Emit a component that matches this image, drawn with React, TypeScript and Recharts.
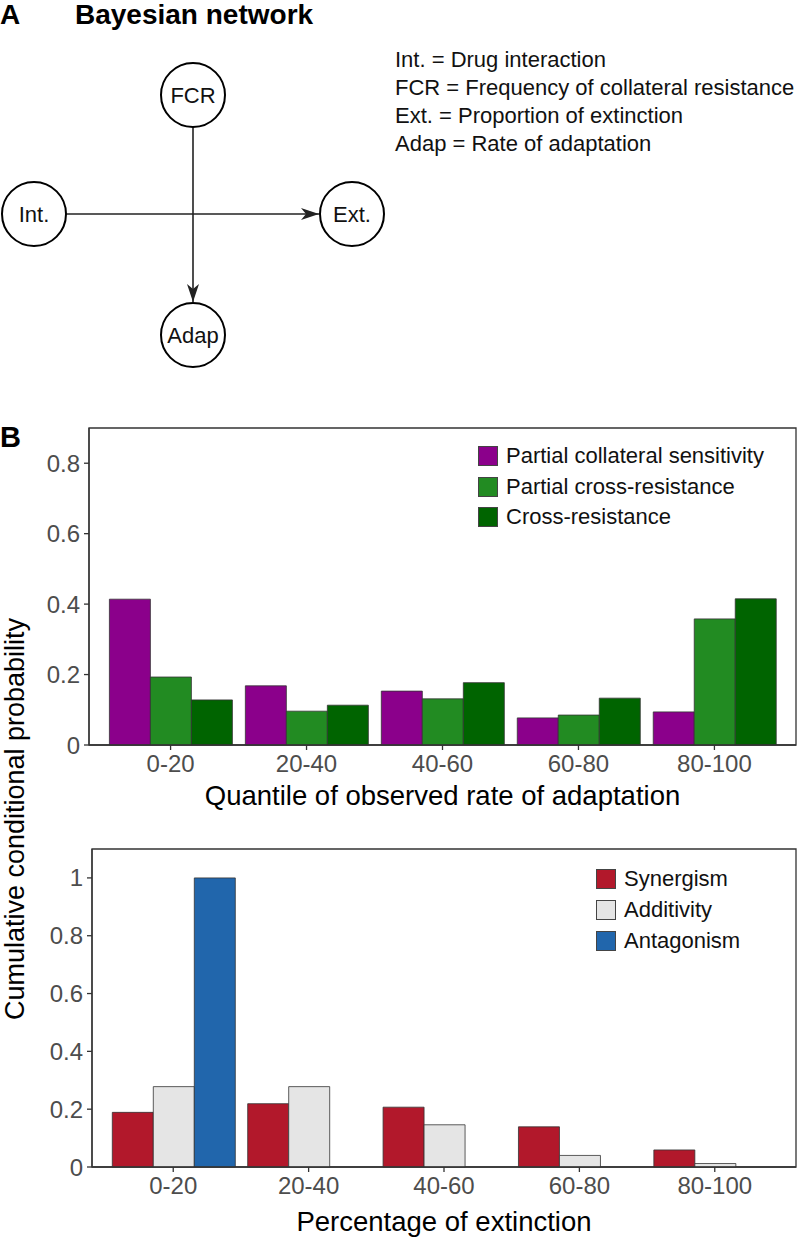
import { BarChart, Bar, XAxis, YAxis, Legend, ReferenceArea } from "recharts";

// quantile bins shared by both panels
const adaptationBins = ["0-20", "20-40", "40-60", "60-80", "80-100"];
const extinctionBins = ["0-20", "20-40", "40-60", "60-80", "80-100"];

// upper panel: FCR classes vs rate of adaptation
const partialCollateralSensitivity = [0.414, 0.168, 0.153, 0.077, 0.094];
const partialCrossResistance = [0.193, 0.096, 0.131, 0.085, 0.358];
const crossResistance = [0.128, 0.113, 0.177, 0.133, 0.415];

// lower panel: drug interaction vs extinction
const synergism = [0.189, 0.219, 0.207, 0.139, 0.059];
const additivity = [0.278, 0.278, 0.146, 0.04, 0.012];
const antagonism = [1.0, 0, 0, 0, 0];

const adaptationTicks = [0, 0.2, 0.4, 0.6, 0.8];
const extinctionTicks = [0, 0.2, 0.4, 0.6, 0.8, 1];
const binPositions = [1, 2, 3, 4, 5];

const abbreviations = [
  "Int. = Drug interaction",
  "FCR = Frequency of collateral resistance",
  "Ext. = Proportion of extinction",
  "Adap = Rate of adaptation",
];

const FONT = "'Liberation Sans', Arial, Helvetica, sans-serif";
const FRAME = "#333333";
// ggplot-style discrete expansion: 0.6 of a category on each side
const X_DOMAIN: [number, number] = [0.4, 5.6];

const adaptationSeries = [
  { key: "pcs", name: "Partial collateral sensitivity", color: "#8b008b", values: partialCollateralSensitivity },
  { key: "pcr", name: "Partial cross-resistance", color: "#228b22", values: partialCrossResistance },
  { key: "cr", name: "Cross-resistance", color: "#006400", values: crossResistance },
];

const extinctionSeries = [
  { key: "syn", name: "Synergism", color: "#b2182b", values: synergism },
  { key: "add", name: "Additivity", color: "#e5e5e5", values: additivity },
  { key: "ant", name: "Antagonism", color: "#2166ac", values: antagonism },
];

function buildRows(bins: string[], series: { key: string; values: number[] }[]) {
  return bins.map((bin, i) => {
    const row: Record<string, string | number> = { bin, pos: binPositions[i] };
    series.forEach((s) => (row[s.key] = s.values[i]));
    return row;
  });
}

const adaptationData = buildRows(adaptationBins, adaptationSeries);
const extinctionData = buildRows(extinctionBins, extinctionSeries);

// network diagram layout
const nodes = [
  { id: "FCR", cx: 193, cy: 95 },
  { id: "Int.", cx: 34, cy: 214 },
  { id: "Ext.", cx: 352, cy: 214 },
  { id: "Adap", cx: 193, cy: 335 },
];
const edges = [
  ["Int.", "Ext."],
  ["FCR", "Adap"],
];
const R = 32;

function SwatchLegend({ items, rowHeight }: { items: typeof adaptationSeries; rowHeight: number }) {
  return (
    <div style={{ fontFamily: FONT }}>
      {items.map((s) => (
        <div key={s.key} style={{ display: "flex", alignItems: "center", height: rowHeight }}>
          <div
            style={{
              width: 18,
              height: 18,
              background: s.color,
              border: "1px solid #444",
              marginRight: 8,
            }}
          />
          <span style={{ fontSize: 22, color: "#111", whiteSpace: "nowrap" }}>{s.name}</span>
        </div>
      ))}
    </div>
  );
}

interface ChartProps {
  data: Record<string, string | number>[];
  bins: string[];
  series: typeof adaptationSeries;
  ticks: number[];
  yMax: number;
  xLabel: string;
  height: number;
  top: number;
  yWidth: number;
  axisHeight: number;
  labelOffset: number;
  legendLeft: number;
  legendTop: number;
  rowHeight: number;
}

function ProbabilityChart(p: ChartProps) {
  const fmt = (v: number) => String(v);
  return (
    <BarChart
      width={797}
      height={p.height}
      data={p.data}
      margin={{ top: p.top, right: 1, bottom: 0, left: 0 }}
      barCategoryGap="5%"
      barGap={0}
    >
      <XAxis
        dataKey="pos"
        type="number"
        domain={X_DOMAIN}
        ticks={binPositions}
        tickFormatter={(v: number) => p.bins[v - 1]}
        height={p.axisHeight}
        tickSize={5}
        tickMargin={5}
        axisLine={{ stroke: FRAME, strokeWidth: 1.3 }}
        tickLine={{ stroke: FRAME, strokeWidth: 1.3 }}
        tick={{ fontSize: 24, fill: "#4d4d4d" }}
        label={{ value: p.xLabel, position: "insideBottom", offset: p.labelOffset, fontSize: 27.5, fill: "#000" }}
      />
      <YAxis
        width={p.yWidth}
        domain={[0, p.yMax]}
        ticks={p.ticks}
        tickFormatter={fmt}
        tickSize={5}
        tickMargin={4}
        axisLine={{ stroke: FRAME, strokeWidth: 1.3 }}
        tickLine={{ stroke: FRAME, strokeWidth: 1.3 }}
        tick={{ fontSize: 24, fill: "#4d4d4d" }}
      />
      {p.series.map((s) => (
        <Bar
          key={s.key}
          dataKey={s.key}
          name={s.name}
          fill={s.color}
          stroke="#333"
          strokeWidth={0.8}
          isAnimationActive={false}
        />
      ))}
      {/* panel border */}
      <ReferenceArea
        x1={X_DOMAIN[0]}
        x2={X_DOMAIN[1]}
        y1={0}
        y2={p.yMax}
        fill="none"
        fillOpacity={0}
        stroke={FRAME}
        strokeWidth={1.3}
        ifOverflow="visible"
      />
      <Legend
        layout="vertical"
        align="center"
        verticalAlign="middle"
        wrapperStyle={{ left: p.legendLeft, top: p.legendTop, width: "auto", height: "auto" }}
        content={() => <SwatchLegend items={p.series} rowHeight={p.rowHeight} />}
      />
    </BarChart>
  );
}

function Network() {
  const byId = Object.fromEntries(nodes.map((n) => [n.id, n]));
  return (
    <g>
      <defs>
        <marker
          id="arrow"
          markerUnits="userSpaceOnUse"
          markerWidth={18}
          markerHeight={12}
          refX={18}
          refY={6}
          orient="auto"
        >
          <path d="M0,0 L18,6 L0,12 L5,6 Z" fill="#222" />
        </marker>
      </defs>
      {edges.map(([a, b]) => {
        const s = byId[a];
        const t = byId[b];
        const dx = t.cx - s.cx;
        const dy = t.cy - s.cy;
        const len = Math.hypot(dx, dy);
        const ux = dx / len;
        const uy = dy / len;
        return (
          <line
            key={a + b}
            x1={s.cx + ux * R}
            y1={s.cy + uy * R}
            x2={t.cx - ux * (R + 1)}
            y2={t.cy - uy * (R + 1)}
            stroke="#222"
            strokeWidth={1.6}
            markerEnd="url(#arrow)"
          />
        );
      })}
      {nodes.map((n) => (
        <g key={n.id}>
          <circle cx={n.cx} cy={n.cy} r={R} fill="#fff" stroke="#000" strokeWidth={2} />
          <text x={n.cx} y={n.cy + 8} textAnchor="middle" fontSize={22} fill="#111">
            {n.id}
          </text>
        </g>
      ))}
    </g>
  );
}

export default function App() {
  return (
    <div
      style={{
        position: "absolute",
        left: 0,
        top: 0,
        width: 797,
        height: 1237,
        background: "#fff",
        fontFamily: FONT,
        overflow: "hidden",
      }}
    >
      <div style={{ position: "absolute", left: 0, top: 400 }}>
        <ProbabilityChart
          data={adaptationData}
          bins={adaptationBins}
          series={adaptationSeries}
          ticks={adaptationTicks}
          yMax={0.9}
          xLabel="Quantile of observed rate of adaptation"
          height={420}
          top={28}
          yWidth={89}
          axisHeight={75}
          labelOffset={15}
          legendLeft={478}
          legendTop={41}
          rowHeight={30.5}
        />
      </div>
      <div style={{ position: "absolute", left: 0, top: 830 }}>
        <ProbabilityChart
          data={extinctionData}
          bins={extinctionBins}
          series={extinctionSeries}
          ticks={extinctionTicks}
          yMax={1.1}
          xLabel="Percentage of extinction"
          height={407}
          top={19}
          yWidth={92}
          axisHeight={70}
          labelOffset={6}
          legendLeft={596}
          legendTop={33.5}
          rowHeight={31}
        />
      </div>
      <svg
        width={797}
        height={1237}
        style={{ position: "absolute", left: 0, top: 0, pointerEvents: "none" }}
        fontFamily={FONT}
      >
        <text x={0} y={24} fontSize={28} fontWeight="bold" fill="#000">
          A
        </text>
        <text x={75} y={24} fontSize={28} fontWeight="bold" fill="#000">
          Bayesian network
        </text>
        {abbreviations.map((line, i) => (
          <text key={line} x={395} y={67 + i * 28} fontSize={22} fill="#111">
            {line}
          </text>
        ))}
        <Network />
        <text x={0} y={447} fontSize={29} fontWeight="bold" fill="#000">
          B
        </text>
        <text
          x={0}
          y={0}
          transform="translate(24,819) rotate(-90)"
          textAnchor="middle"
          fontSize={27}
          fill="#000"
        >
          Cumulative conditional probability
        </text>
      </svg>
    </div>
  );
}
